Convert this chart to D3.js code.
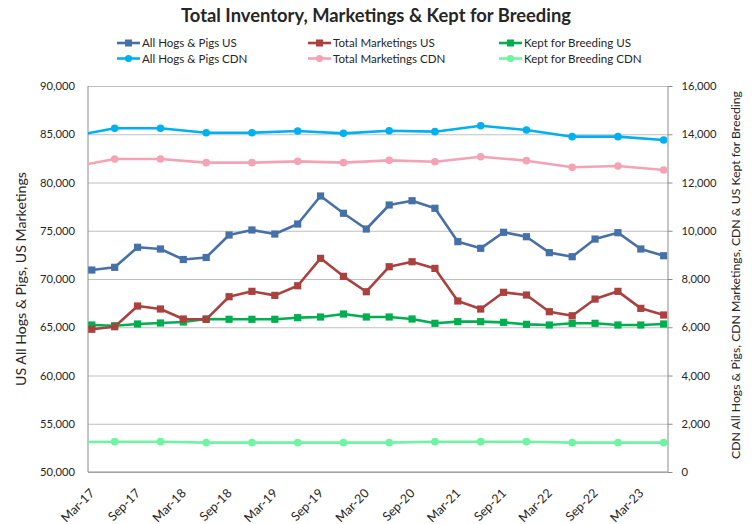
<!DOCTYPE html>
<html><head><meta charset="utf-8">
<script src="https://cdn.jsdelivr.net/npm/d3@7"></script>
<style>
body{margin:0;background:#fff}
text{font-family:Lato,'Open Sans',sans-serif;fill:#262626}
</style>
</head><body>
<svg id="c" width="753" height="524"></svg>
<script>
// ---------- data ----------
const usPeriods = ["Mar-17","Jun-17","Sep-17","Dec-17","Mar-18","Jun-18","Sep-18","Dec-18",
  "Mar-19","Jun-19","Sep-19","Dec-19","Mar-20","Jun-20","Sep-20","Dec-20",
  "Mar-21","Jun-21","Sep-21","Dec-21","Mar-22","Jun-22","Sep-22","Dec-22","Mar-23","Jun-23"];
const usHogs = [70930,71210,73285,73110,72020,72230,74560,75080,74660,75700,78600,76810,75180,
  77670,78110,77330,73870,73180,74840,74380,72730,72310,74140,74800,73110,72410];
const usMarketings = [64790,65055,67200,66890,65855,65820,68165,68720,68305,69300,72140,70275,68680,
  71270,71790,71100,67720,66890,68620,68340,66610,66190,67920,68720,66960,66270];
const usBreeding = [6093,6065,6135,6176,6218,6342,6330,6330,6330,6397,6425,6549,6425,
  6425,6342,6163,6232,6232,6204,6121,6093,6163,6163,6093,6093,6135];

const cdnPeriods = ["Dec-16","Jun-17","Dec-17","Jun-18","Dec-18","Jun-19","Dec-19","Jun-20",
  "Dec-20","Jun-21","Dec-21","Jun-22","Dec-22","Jun-23"];
const cdnHogs = [13894,14246,14246,14065,14065,14134,14038,14148,14107,14355,14176,13900,13900,13761];
const cdnMarketings = [12622,12974,12974,12822,12822,12877,12822,12919,12863,13070,12905,12629,12684,12518];
const cdnBreeding = [1235,1257,1257,1216,1216,1216,1216,1216,1257,1257,1257,1216,1216,1216];

const xTickLabels = ["Mar-17","Sep-17","Mar-18","Sep-18","Mar-19","Sep-19","Mar-20","Sep-20",
  "Mar-21","Sep-21","Mar-22","Sep-22","Mar-23"];
const leftTicks = [50000,55000,60000,65000,70000,75000,80000,85000,90000];
const rightTicks = [0,2000,4000,6000,8000,10000,12000,14000,16000];

const seriesNames = ["All Hogs & Pigs US","Total Marketings US","Kept for Breeding US",
  "All Hogs & Pigs CDN","Total Marketings CDN","Kept for Breeding CDN"];
const seriesColors = ["#4670a8","#ab413f","#00b050","#00b0f0","#f5a2b4","#6ef5a2"];

const titleText = "Total Inventory, Marketings & Kept for Breeding";
const leftTitle = "US All Hogs & Pigs, US Marketings";
const rightTitle = "CDN All Hogs & Pigs, CDN Marketings, CDN & US Kept for Breeding";

// ---------- chart ----------
const svg = d3.select("#c");
const parse = d3.timeParse("%b-%y");
const mIdx = s => { const d = parse(s); return (d.getFullYear()-2017)*12 + d.getMonth() - 2; };

const L = 88, R = 667.5, T = 86, B = 472;
const x = d3.scaleLinear().domain([-0.5, 75.5]).range([L, R]);
const yL = d3.scaleLinear().domain([50000, 90000]).range([B, T]);
const yR = d3.scaleLinear().domain([0, 16000]).range([B, T]);

function fitSize(textSel, target) {
  const w = textSel.node().getComputedTextLength();
  const fs = parseFloat(textSel.attr("font-size"));
  return fs * target / w;
}

// gridlines
svg.append("g").attr("transform", `translate(${L},0)`)
  .call(d3.axisLeft(yL).tickValues(leftTicks).tickSize(-(R - L)).tickFormat(""))
  .call(g => g.select(".domain").remove())
  .call(g => g.selectAll("line").attr("stroke", "#bfbfbf").attr("stroke-width", 1));

// left axis labels
const gl = svg.append("g").attr("transform", `translate(${L},0)`)
  .call(d3.axisLeft(yL).tickValues(leftTicks).tickSize(0).tickPadding(13).tickFormat(d3.format(",")));
gl.select(".domain").remove();
gl.selectAll("text").attr("font-family", "Lato").attr("font-size", 12).attr("fill", "#262626");
const tickFs = fitSize(gl.select("text"), 35);
gl.selectAll("text").attr("font-size", tickFs);

// right axis
const gr = svg.append("g").attr("transform", `translate(${R},0)`)
  .call(d3.axisRight(yR).tickValues(rightTicks).tickSize(5).tickSizeOuter(0).tickPadding(9).tickFormat(d3.format(",")));
gr.select(".domain").attr("stroke", "#8c8c8c");
gr.selectAll("line").attr("stroke", "#8c8c8c");
gr.selectAll("text").attr("font-family", "Lato").attr("font-size", tickFs).attr("fill", "#262626");

// left & bottom axis lines
svg.append("line").attr("x1", L).attr("x2", L).attr("y1", T).attr("y2", B).attr("stroke", "#8c8c8c");
svg.append("line").attr("x1", L).attr("x2", R).attr("y1", B).attr("y2", B).attr("stroke", "#8c8c8c");

// bottom labels
const gb = svg.append("g").attr("transform", `translate(0,${B})`)
  .call(d3.axisBottom(x).tickValues(xTickLabels.map(mIdx)).tickSize(0)
    .tickFormat((d, i) => xTickLabels[i]));
gb.select(".domain").remove();
gb.selectAll("text").attr("font-family", "Lato").attr("font-size", 12).attr("fill", "#262626");
const xFs = fitSize(gb.select("text"), 41);
gb.selectAll("text").attr("font-size", xFs)
  .attr("text-anchor", "end").attr("x", 0).attr("y", 0).attr("dy", 0)
  .attr("transform", "translate(3,22) rotate(-45)");

// clip
svg.append("clipPath").attr("id", "clip").append("rect")
  .attr("x", L).attr("y", T - 10).attr("width", R - L).attr("height", B - T + 20);

const plot = svg.append("g").attr("clip-path", "url(#clip)");

const series = [
  {name: seriesNames[0], color: seriesColors[0], periods: usPeriods, values: usHogs, y: yL, shape: "square"},
  {name: seriesNames[1], color: seriesColors[1], periods: usPeriods, values: usMarketings, y: yL, shape: "square"},
  {name: seriesNames[2], color: seriesColors[2], periods: usPeriods, values: usBreeding, y: yR, shape: "square"},
  {name: seriesNames[3], color: seriesColors[3], periods: cdnPeriods, values: cdnHogs, y: yR, shape: "circle"},
  {name: seriesNames[4], color: seriesColors[4], periods: cdnPeriods, values: cdnMarketings, y: yR, shape: "circle"},
  {name: seriesNames[5], color: seriesColors[5], periods: cdnPeriods, values: cdnBreeding, y: yR, shape: "circle"}
];

const drawOrder = [5, 4, 3, 2, 1, 0];
drawOrder.forEach(k => {
  const s = series[k];
  const pts = s.periods.map((p, i) => ({m: mIdx(p), v: s.values[i]}));
  const line = d3.line().x(d => x(d.m)).y(d => s.y(d.v));
  plot.append("path").datum(pts).attr("d", line)
    .attr("fill", "none").attr("stroke", s.color).attr("stroke-width", 2.6)
    .attr("stroke-linejoin", "round");
  const vis = pts.filter(d => d.m >= 0);
  if (s.shape === "square") {
    plot.selectAll(null).data(vis).enter().append("rect")
      .attr("x", d => x(d.m) - 3.6).attr("y", d => s.y(d.v) - 3.6)
      .attr("width", 7.2).attr("height", 7.2).attr("fill", s.color);
  } else {
    plot.selectAll(null).data(vis).enter().append("circle")
      .attr("cx", d => x(d.m)).attr("cy", d => s.y(d.v)).attr("r", 3.8).attr("fill", s.color);
  }
});

// title
const tt = svg.append("text").attr("x", 376).attr("y", 22).attr("text-anchor", "middle")
  .attr("font-family", "Lato").attr("font-weight", "bold").attr("font-size", 17).attr("fill", "#000")
  .text(titleText);
tt.attr("font-size", fitSize(tt, 390));

// legend
const legCols = [117, 308, 499], legRows = [43, 58.5];
const leg = svg.append("g");
let legFs = null;
series.forEach((s, i) => {
  const cx = legCols[i % 3], cy = legRows[Math.floor(i / 3)];
  const g = leg.append("g").attr("transform", `translate(${cx},${cy})`);
  g.append("line").attr("x1", 0).attr("x2", 23).attr("stroke", s.color).attr("stroke-width", 2.6);
  if (s.shape === "square") g.append("rect").attr("x", 8).attr("y", -3.5).attr("width", 7).attr("height", 7).attr("fill", s.color);
  else g.append("circle").attr("cx", 11.5).attr("r", 3.6).attr("fill", s.color);
  const t = g.append("text").attr("x", 25).attr("dy", "0.35em").attr("font-family", "Lato")
    .attr("font-size", 12).attr("fill", "#262626").text(s.name);
  if (legFs === null) legFs = fitSize(t, 95);
  t.attr("font-size", legFs);
});

// axis titles
const lt = svg.append("text").attr("transform", "translate(26,279) rotate(-90)").attr("text-anchor", "middle")
  .attr("font-family", "Lato").attr("font-size", 12).attr("fill", "#262626").text(leftTitle);
lt.attr("font-size", fitSize(lt, 214));
const rt = svg.append("text").attr("transform", "translate(740,275) rotate(-90)").attr("text-anchor", "middle")
  .attr("font-family", "Lato").attr("font-size", 12).attr("fill", "#262626").text(rightTitle);
rt.attr("font-size", fitSize(rt, 368));
</script>
</body></html>
